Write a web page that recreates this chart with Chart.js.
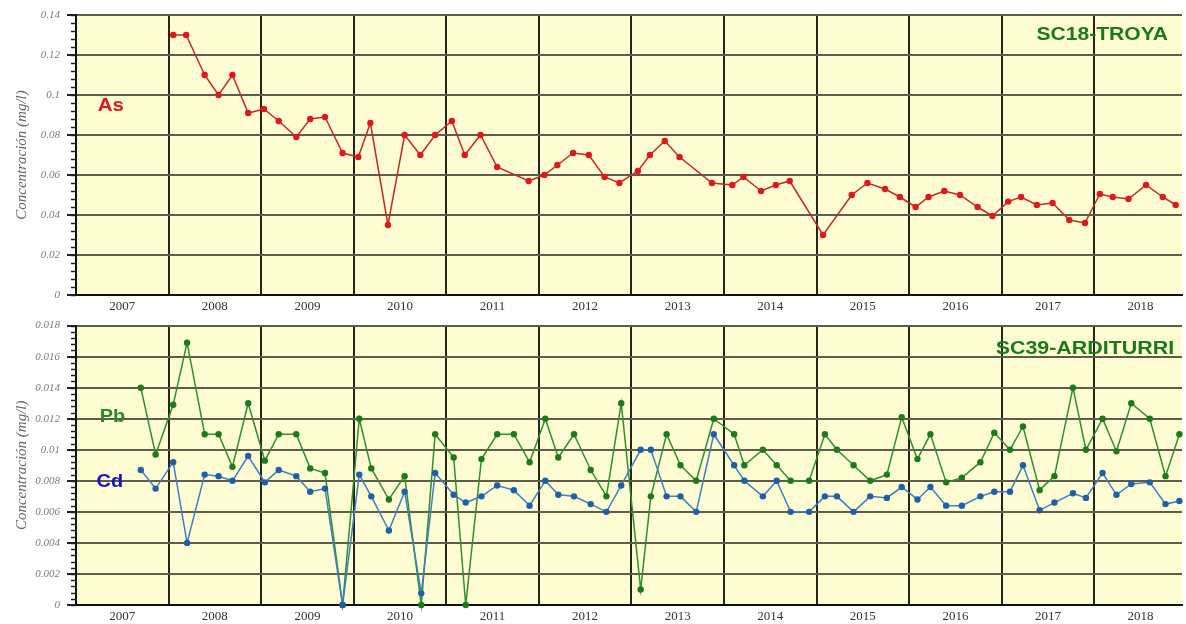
<!DOCTYPE html>
<html><head><meta charset="utf-8">
<script src="https://cdn.jsdelivr.net/npm/chart.js@4"></script>
<style>
html,body{margin:0;padding:0;background:#fff;overflow:hidden;width:1186px;height:624px;}
.w{position:absolute;left:0;width:1186px;height:312px;}
#w1{top:0;}
#w2{top:312px;}
</style></head><body>
<div class="w" id="w1"><canvas id="c1"></canvas></div>
<div class="w" id="w2"><canvas id="c2"></canvas></div>
<script>
// ---- data ----
const years = [2007,2008,2009,2010,2011,2012,2013,2014,2015,2016,2017,2018];
const yearLabels = ['2007','2008','2009','2010','2011','2012','2013','2014','2015','2016','2017','2018'];
const asTickValues = [0,0.02,0.04,0.06,0.08,0.1,0.12,0.14];
const metalTickValues = [0,0.002,0.004,0.006,0.008,0.01,0.012,0.014,0.016,0.018];

// SC18-TROYA : As (mg/l), sample dates as decimal years
const asDates = [2008.05,2008.19,2008.39,2008.54,2008.69,2008.86,2009.03,2009.19,2009.38,2009.53,
  2009.69,2009.88,2010.05,2010.18,2010.37,2010.55,2010.72,2010.88,2011.06,2011.20,
  2011.37,2011.55,2011.89,2012.06,2012.20,2012.37,2012.54,2012.71,2012.87,2013.07,
  2013.20,2013.36,2013.52,2013.87,2014.09,2014.21,2014.40,2014.56,2014.71,2015.07,
  2015.38,2015.55,2015.74,2015.90,2016.07,2016.21,2016.38,2016.55,2016.74,2016.90,
  2017.07,2017.21,2017.38,2017.55,2017.73,2017.90,2018.06,2018.20,2018.37,2018.56,
  2018.74,2018.88];
const asValues = [0.130,0.130,0.110,0.100,0.110,0.091,0.093,0.087,0.079,0.088,
  0.089,0.071,0.069,0.086,0.035,0.080,0.070,0.080,0.087,0.070,
  0.080,0.064,0.057,0.060,0.065,0.071,0.070,0.059,0.056,0.062,
  0.070,0.077,0.069,0.056,0.055,0.059,0.052,0.055,0.057,0.030,
  0.050,0.056,0.053,0.049,0.044,0.049,0.052,0.050,0.044,0.0395,
  0.0467,0.049,0.045,0.046,0.0375,0.036,0.0505,0.049,0.048,0.055,
  0.049,0.045];

// SC39-ARDITURRI : Pb and Cd (mg/l)
const arditurriDates = [2007.70,2007.86,2008.05,2008.20,2008.39,2008.54,2008.69,2008.86,2009.04,2009.19,
  2009.38,2009.53,2009.69,2009.88,2010.06,2010.19,2010.38,2010.55,2010.73,2010.88,
  2011.08,2011.21,2011.38,2011.55,2011.73,2011.90,2012.07,2012.21,2012.38,2012.56,
  2012.73,2012.89,2013.10,2013.21,2013.38,2013.53,2013.70,2013.89,2014.11,2014.22,
  2014.42,2014.57,2014.72,2014.92,2015.09,2015.22,2015.40,2015.58,2015.76,2015.92,
  2016.09,2016.23,2016.40,2016.57,2016.77,2016.92,2017.09,2017.23,2017.41,2017.57,
  2017.77,2017.91,2018.09,2018.24,2018.40,2018.60,2018.77,2018.92];
const pbValues = [0.014,0.0097,0.0129,0.0169,0.011,0.011,0.0089,0.013,0.0093,0.011,
  0.011,0.0088,0.0085,0,0.012,0.0088,0.0068,0.0083,0,0.011,
  0.0095,0,0.0094,0.011,0.011,0.0092,0.012,0.0095,0.011,0.0087,
  0.007,0.013,0.001,0.007,0.011,0.009,0.008,0.012,0.011,0.009,
  0.010,0.009,0.008,0.008,0.011,0.010,0.009,0.008,0.0084,0.0121,
  0.0094,0.011,0.0079,0.0082,0.0092,0.0111,0.010,0.0115,0.0074,0.0083,
  0.014,0.010,0.012,0.0099,0.013,0.012,0.0083,0.011];
const cdValues = [0.0087,0.0075,0.0092,0.0040,0.0084,0.0083,0.0080,0.0096,0.0079,0.0087,
  0.0083,0.0073,0.0075,0,0.0084,0.0070,0.0048,0.0073,0.00075,0.0085,
  0.0071,0.0066,0.0070,0.0077,0.0074,0.0064,0.0080,0.0071,0.0070,0.0065,
  0.0060,0.0077,0.010,0.010,0.007,0.007,0.006,0.011,0.0090,0.008,
  0.007,0.008,0.006,0.006,0.007,0.007,0.006,0.007,0.0069,0.0076,
  0.0068,0.0076,0.0064,0.0064,0.007,0.0073,0.0073,0.0090,0.0061,0.0066,
  0.0072,0.0069,0.0085,0.0071,0.0078,0.0079,0.0065,0.0067];

// ---- helpers ----
const SERIF = '"Liberation Serif","DejaVu Serif",serif';
const SANS = '"Liberation Sans",Arial,sans-serif';
const X_MAX = 2018.948;

const bgPlugin = {
  id: 'plotBg',
  beforeDraw(chart) {
    const {ctx, chartArea: a} = chart;
    ctx.save();
    ctx.fillStyle = '#fefcd3';
    ctx.fillRect(a.left, a.top, a.right - a.left, a.bottom - a.top);
    ctx.restore();
  }
};
const minorTickPlugin = {
  id: 'minorTicks',
  afterDraw(chart, args, opts) {
    const y = chart.scales.y, ctx = chart.ctx;
    const n = Math.round((y.max - y.min) / opts.step);
    ctx.save();
    ctx.strokeStyle = '#222';
    ctx.lineWidth = 1.5;
    for (let i = 0; i <= n; i++) {
      const py = Math.round(y.getPixelForValue(y.min + i * opts.step)) + 0.5;
      ctx.beginPath();
      ctx.moveTo(chart.chartArea.left - 5, py);
      ctx.lineTo(chart.chartArea.left, py);
      ctx.stroke();
    }
    ctx.restore();
  }
};
const textPlugin = {
  id: 'stationLabels',
  afterDatasetsDraw(chart, args, opts) {
    const ctx = chart.ctx, xs = chart.scales.x, ys = chart.scales.y;
    for (const it of opts.items) {
      ctx.save();
      ctx.translate(xs.getPixelForValue(it.x), ys.getPixelForValue(it.y));
      ctx.scale(it.sx, 1);
      ctx.font = 'bold ' + it.size + 'px ' + SANS;
      ctx.fillStyle = it.color;
      ctx.textAlign = 'center';
      ctx.textBaseline = 'middle';
      ctx.fillText(it.text, 0, 0);
      ctx.restore();
    }
  }
};

function xScale(axisHeight) {
  return {
    type: 'linear', min: 2007, max: X_MAX,
    afterBuildTicks(s) {
      const t = [];
      years.forEach(y => { t.push({value: y}); t.push({value: y + 0.5}); });
      s.ticks = t;
    },
    afterFit(s) { s.height = axisHeight; },
    ticks: {
      autoSkip: false, maxRotation: 0, padding: 4,
      color: '#333', font: {family: SERIF, size: 13},
      callback(v) {
        if (Number.isInteger(v)) return '';
        const i = years.indexOf(Math.floor(v));
        return i >= 0 ? yearLabels[i] : '';
      }
    },
    grid: {
      drawTicks: false,
      lineWidth: 2,
      color: c => (c.tick && Number.isInteger(c.tick.value)) ? '#262618' : 'rgba(0,0,0,0)'
    },
    border: {display: true, color: '#111', width: 2}
  };
}
function yScale(tickValues, maxV) {
  return {
    type: 'linear', min: 0, max: maxV,
    afterBuildTicks(s) { s.ticks = tickValues.map(v => ({value: v})); },
    afterFit(s) { s.width = 76; },
    ticks: {
      padding: 7, color: '#7a7a7a',
      font: {family: SERIF, size: 11, style: 'italic'},
      callback: v => String(+Number(v).toFixed(4))
    },
    grid: {lineWidth: 2, color: '#5f5d4a', tickLength: 9, tickColor: '#222', tickWidth: 2},
    border: {display: true, color: '#111', width: 2},
    title: {
      display: true, text: 'Concentración (mg/l)', color: '#666',
      font: {family: SERIF, size: 15, style: 'italic'},
      padding: {top: 13, bottom: 0}
    }
  };
}
function pts(dates, vals) { return dates.map((d, i) => ({x: d, y: vals[i]})); }

const common = {
  responsive: true, maintainAspectRatio: false, animation: false, devicePixelRatio: 1,
  events: []
};

new Chart(document.getElementById('c1'), {
  type: 'line',
  data: {datasets: [{
    label: 'As', data: pts(asDates, asValues),
    borderColor: '#c42a24', borderWidth: 1.5,
    pointBackgroundColor: '#e3161b', pointBorderWidth: 0, pointRadius: 3.2,
    tension: 0, clip: false
  }]},
  options: Object.assign({}, common, {
    layout: {padding: {top: 15, right: 0, bottom: 0, left: 0}},
    scales: {x: xScale(17), y: yScale(asTickValues, 0.14)},
    plugins: {
      legend: {display: false}, tooltip: {enabled: false},
      minorTicks: {step: 0.004},
      stationLabels: {items: [
        {text: 'As', x: 2007.377, y: 0.0945, color: '#e0181c', size: 19, sx: 1.08},
        {text: 'SC18-TROYA', x: 2018.087, y: 0.1298, color: '#1a7a1a', size: 18, sx: 1.17}
      ]}
    }
  }),
  plugins: [bgPlugin, minorTickPlugin, textPlugin]
});

new Chart(document.getElementById('c2'), {
  type: 'line',
  data: {datasets: [{
    label: 'Cd', data: pts(arditurriDates, cdValues),
    borderColor: '#3f7fc0', borderWidth: 1.5,
    pointBackgroundColor: '#1f5fa6', pointBorderWidth: 0, pointRadius: 3.2,
    tension: 0, clip: false
  }, {
    label: 'Pb', data: pts(arditurriDates, pbValues),
    borderColor: '#2f8f2f', borderWidth: 1.5,
    pointBackgroundColor: '#1b7a1b', pointBorderWidth: 0, pointRadius: 3.2,
    tension: 0, clip: false
  }]},
  options: Object.assign({}, common, {
    layout: {padding: {top: 13, right: 0, bottom: 0, left: 0}},
    scales: {x: xScale(19), y: yScale(metalTickValues, 0.018)},
    plugins: {
      legend: {display: false}, tooltip: {enabled: false},
      minorTicks: {step: 0.0004},
      stationLabels: {items: [
        {text: 'Pb', x: 2007.393, y: 0.0121, color: '#2a8a2a', size: 19, sx: 1.05},
        {text: 'Cd', x: 2007.366, y: 0.00797, color: '#1414c8', size: 19, sx: 1.05},
        {text: 'SC39-ARDITURRI', x: 2017.899, y: 0.01652, color: '#1a7a1a', size: 18, sx: 1.19}
      ]}
    }
  }),
  plugins: [bgPlugin, minorTickPlugin, textPlugin]
});
</script>
</body></html>
